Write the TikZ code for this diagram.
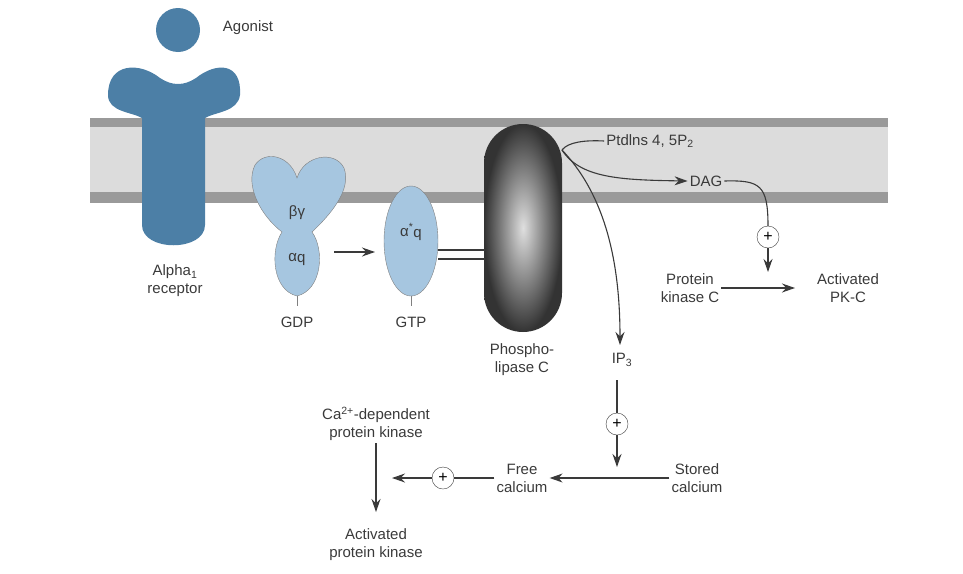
\documentclass[tikz,border=0pt]{standalone}
\usepackage{fontspec}
\setmainfont{Liberation Sans}
\usetikzlibrary{arrows.meta}
\definecolor{recblue}{HTML}{4C7FA6}
\definecolor{gblue}{HTML}{A6C6E0}
\definecolor{memdark}{HTML}{9A9A9A}
\definecolor{memlight}{HTML}{DCDCDC}
\definecolor{txt}{HTML}{3A3A3A}
\tikzset{
  lbl/.style={font=\fontsize{15}{18}\selectfont, text=txt, align=center, inner sep=2pt},
  plus/.style={circle, draw=txt, fill=white, inner sep=0pt, minimum size=22pt, font=\fontsize{16}{16}\selectfont},
  arr/.style={draw=txt, line width=1.1pt, -{Stealth[length=13pt,width=9pt]}},
  ln/.style={draw=txt, line width=1.1pt}
}
\begin{document}
\begin{tikzpicture}[x=1pt,y=-1pt]
  \useasboundingbox (0,0) rectangle (963,573);
  % membrane
  \fill[memlight] (90,118) rectangle (888,203);
  \fill[memdark] (90,118) rectangle (888,127);
  \fill[memdark] (90,192) rectangle (888,203);
  % agonist and receptor
  \fill[recblue] (178,30) circle (22);
  \fill[recblue] (108,95) .. controls (108,62) and (140,62) .. (160,78)
    .. controls (172,86) and (184,86) .. (196,78)
    .. controls (216,62) and (242,62) .. (240,95)
    .. controls (238,112) and (215,112) .. (205,118)
    -- (205,225) .. controls (205,252) and (142,252) .. (142,225)
    -- (142,118) .. controls (132,112) and (108,112) .. (108,95) -- cycle;
  \node[lbl] (agonist) at (248,28) {Agonist};
  \node[lbl] (receptor) at (175,281) {Alpha\textsubscript{1}\\receptor};
  % G protein, inactive
  \filldraw[fill=gblue, draw=gray] (282,232) .. controls (260,215) and (245,185) .. (255,165)
    .. controls (265,150) and (290,155) .. (297,178)
    .. controls (304,155) and (335,150) .. (344,168)
    .. controls (352,190) and (330,215) .. (312,232)
    .. controls (325,250) and (322,290) .. (297,296)
    .. controls (272,290) and (270,250) .. (282,232) -- cycle;
  \node[lbl] (bg) at (297,213) {βγ};
  \node[lbl] (aq) at (297,260) {α\raisebox{-1pt}{q}};
  \draw[gray] (297,296) -- (297,306);
  \node[lbl] (gdp) at (297,322) {GDP};
  % G protein, active
  \filldraw[fill=gblue, draw=gray] (411,241) ellipse (27 and 55);
  \node[lbl] (aqa) at (411,232) {α\textsuperscript{*}\raisebox{-1pt}{q}};
  \draw[gray] (411,296) -- (411,306);
  \node[lbl] (gtp) at (411,322) {GTP};
  % phospholipase C
  \shade[inner color=gray!25, outer color=black!80, rounded corners=39] (484,124) rectangle (562,332);
  \node[lbl] (plc) at (522,360) {Phospho-\\lipase C};
  \coordinate (plcc) at (562,150);
  % labels
  \node[lbl] (pip) at (650,141) {Ptdlns 4, 5P\textsubscript{2}};
  \node[lbl] (dag) at (706,181) {DAG};
  \node[lbl] (pkc) at (690,288) {Protein\\kinase C};
  \node[lbl] (apkc) at (848,288) {Activated\\PK-C};
  \node[lbl] (ip3) at (622,360) {IP\textsubscript{3}};
  \node[lbl] (stored) at (697,478) {Stored\\calcium};
  \node[lbl] (free) at (522,478) {Free\\calcium};
  \node[lbl] (cadep) at (376,424) {Ca\textsuperscript{2+}-dependent\\protein kinase};
  \node[lbl] (apk) at (376,545) {Activated\\protein kinase};
  \node[plus] (p1) at (768,237) {+};
  \node[plus] (p2) at (617,424) {+};
  \node[plus] (p3) at (443,478) {+};
  % connectors
  \draw[arr] (334,252) -- (375,252);
  \draw[ln] (438,250) -- (485,250) (438,259) -- (485,259);
  \draw[ln] (pip.west) .. controls (585,140) and (568,142) .. (plcc);
  \draw[arr] (plcc) .. controls (580,178) and (620,180) .. (dag.west);
  \draw[arr] (plcc) .. controls (600,190) and (620,250) .. (620,345);
  \draw[ln] (dag.east) .. controls (760,180) and (768,185) .. (p1.north);
  \draw[arr] (p1.south) -- (768,272);
  \draw[arr] (pkc.east) -- (795,288);
  \draw[ln] (617,380) -- (p2.north);
  \draw[arr] (p2.south) -- (617,467);
  \draw[arr] (stored.west) -- (free.east);
  \draw[ln] (free.west) -- (p3.east);
  \draw[arr] (p3.west) -- (392,478);
  \draw[arr] (cadep.south) -- (376,512);
\end{tikzpicture}
\end{document}
